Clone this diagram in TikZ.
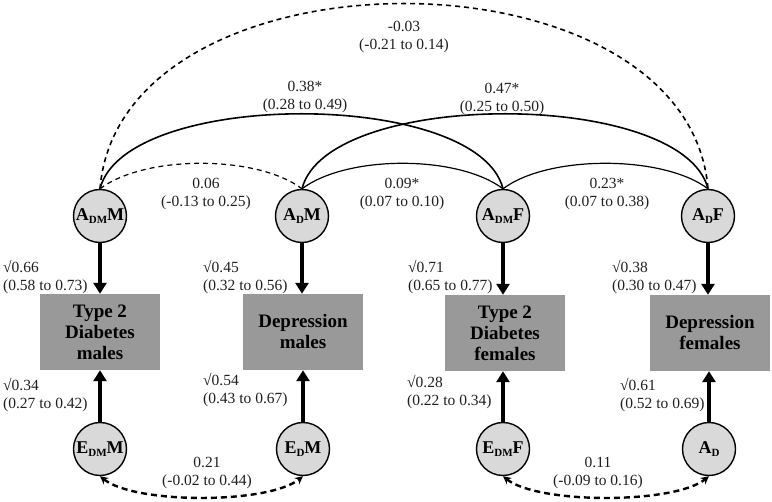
\documentclass[tikz,border=0pt]{standalone}
\usepackage{fontspec}
\setmainfont{Liberation Serif}
\usetikzlibrary{arrows.meta}
\newcommand{\lowsub}[1]{\raisebox{-0.45ex}{\fontsize{11}{11}\selectfont #1}}

\begin{document}
\begin{tikzpicture}[x=1pt,y=-1pt,
  latent/.style={circle,draw,line width=1.4pt,fill=circgrey,minimum size=53pt,inner sep=0pt,font=\fontsize{18}{18}\selectfont\bfseries},
  observed/.style={rectangle,fill=boxgrey,minimum width=120pt,minimum height=76pt,align=center,font=\fontsize{19}{21}\selectfont\bfseries},
  load/.style={line width=3.5pt,-{Triangle[width=13pt,length=11pt]}},
  est/.style={font=\fontsize{15.5}{18}\selectfont,text=textgrey,align=center,inner sep=0pt},
  side/.style={est,align=left,anchor=west},
  bigarc/.style={line width=1.6pt},
  smallarc/.style={line width=1.2pt},
  resid/.style={line width=2.4pt,dash pattern=on 6pt off 4pt,{Stealth[length=8pt,width=8pt]}-{Stealth[length=8pt,width=8pt]}}]
\definecolor{circgrey}{HTML}{D9D9D9}
\definecolor{boxgrey}{HTML}{999999}
\definecolor{textgrey}{HTML}{1F1F1F}
\useasboundingbox (0,0) rectangle (772,502);
  \foreach \nm/\txt/\xx in {admm/A\lowsub{DM}M/100,adm/A\lowsub{D}M/302,admf/A\lowsub{DM}F/503,adf/A\lowsub{D}F/708}
  {  \node [latent] (\nm) at (\xx,216) {\txt};}
  \foreach \nm/\txt/\xx in {edmm/E\lowsub{DM}M/100,edm/E\lowsub{D}M/303,edmf/E\lowsub{DM}F/503,adb/A\lowsub{D}/709}
  {  \node [latent] (\nm) at (\xx,449) {\txt};}
\node [observed] (t2m) at (100,332) {Type 2\\Diabetes\\males};
\node [observed] (depm) at (303,332) {Depression\\males};
\node [observed] (t2f) at (505,333) {Type 2\\Diabetes\\females};
\node [observed] (depf) at (710,333) {Depression\\females};
  \foreach \a/\b in {admm/t2m,adm/depm,admf/t2f,adf/depf}
  {  \draw [load] (\a.south) -- (\a.south |- \b.north);}
  \foreach \a/\b in {edmm/t2m,edm/depm,edmf/t2f,adb/depf}
  {  \draw [load] (\a.north) -- (\a.north |- \b.south);}
\draw [bigarc,dashed,dash pattern=on 5pt off 4pt] (admm.north) .. controls +(20,-247) and +(-20,-247) .. (adf.north);
\draw [bigarc] (admm.north) .. controls +(25,-100) and +(-25,-100) .. (admf.north);
\draw [bigarc] (adm.north) .. controls +(25,-100) and +(-25,-100) .. (adf.north);
\draw [smallarc,dashed,dash pattern=on 5pt off 4pt] (admm.north) .. controls +(45,-34) and +(-45,-34) .. (adm.north);
\draw [smallarc] (adm.north) .. controls +(45,-34) and +(-45,-34) .. (admf.north);
\draw [smallarc] (admf.north) .. controls +(45,-34) and +(-45,-34) .. (adf.north);
\draw [resid] (edmm.south) .. controls +(35,28) and +(-35,28) .. (edm.south);
\draw [resid] (edmf.south) .. controls +(35,28) and +(-35,28) .. (adb.south);
  \foreach \nm/\xx/\yy/\txt in {c03/404/37/-0.03\\(-0.21 to 0.14),c38/305/97/0.38*\\(0.28 to 0.49),c47/502/99/0.47*\\(0.25 to 0.50),c06/206/194/0.06\\(-0.13 to 0.25),c09/402/194/0.09*\\(0.07 to 0.10),c23/607/194/0.23*\\(0.07 to 0.38),c21/207/473/0.21\\(-0.02 to 0.44),c11/598/473/0.11\\(-0.09 to 0.16)}
  {  \node [est] (\nm) at (\xx,\yy) {\txt};}
  \foreach \nm/\xx/\yy/\txt in {s66/3/277/√0.66\\(0.58 to 0.73),s45/203/277/√0.45\\(0.32 to 0.56),s71/408/277/√0.71\\(0.65 to 0.77),s38/612/277/√0.38\\(0.30 to 0.47),s34/3/395/√0.34\\(0.27 to 0.42),s54/203/390/√0.54\\(0.43 to 0.67),s28/407/392/√0.28\\(0.22 to 0.34),s61/620/395/√0.61\\(0.52 to 0.69)}
  {  \node [side] (\nm) at (\xx,\yy) {\txt};}
\end{tikzpicture}
\end{document}
